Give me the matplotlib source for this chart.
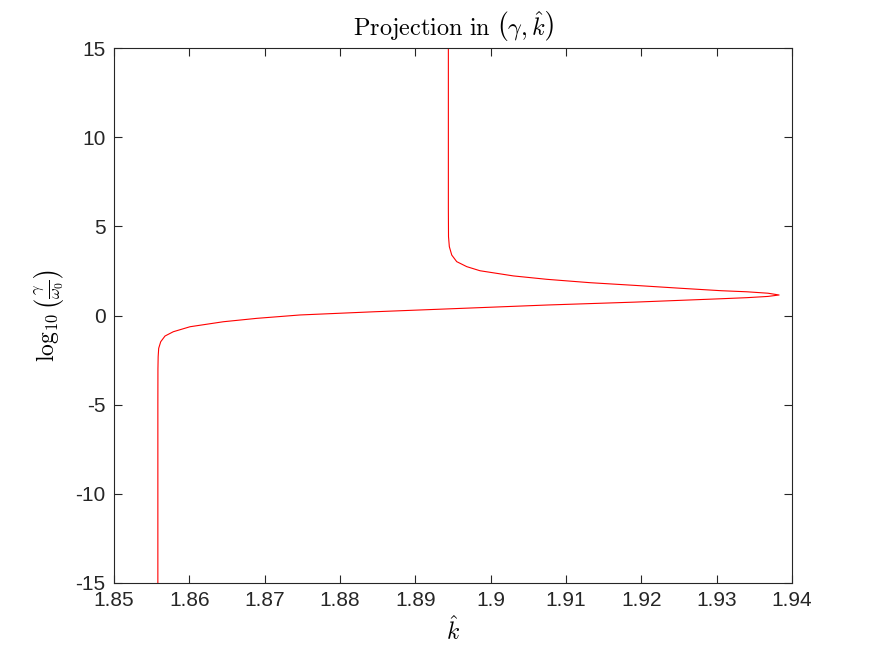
import matplotlib.pyplot as plt

plt.rcParams["mathtext.fontset"] = "cm"
plt.rcParams["font.family"] = ["Liberation Sans", "DejaVu Sans"]
plt.rcParams["axes.unicode_minus"] = False

# curve: k_hat vs log10(gamma/omega0)
k_hat = [1.85582, 1.85582, 1.85583, 1.85586, 1.85593, 1.85620, 1.85677,
         1.85787, 1.86009, 1.86451, 1.86894, 1.87469, 1.88455, 1.8961,
         1.9076, 1.9191, 1.9306, 1.9340, 1.9368, 1.93828,
         1.9368, 1.9340, 1.9306, 1.9251, 1.9191, 1.91319, 1.90744,
         1.90301, 1.89858, 1.89682, 1.89549, 1.89483, 1.89451, 1.89440,
         1.89438, 1.89438]
log_gamma = [-15.0, -5.0, -3.0, -2.31, -1.84, -1.47, -1.15,
             -0.91, -0.63, -0.35, -0.16, 0.03, 0.21, 0.40,
             0.59, 0.75, 0.94, 1.00, 1.07, 1.15,
             1.25, 1.33, 1.39, 1.53, 1.69, 1.84, 2.03,
             2.22, 2.51, 2.74, 3.02, 3.39, 3.86, 4.42,
             6.0, 15.0]

x_ticks = [1.85, 1.86, 1.87, 1.88, 1.89, 1.9, 1.91, 1.92, 1.93, 1.94]
x_tick_labels = ["1.85", "1.86", "1.87", "1.88", "1.89", "1.9", "1.91", "1.92", "1.93", "1.94"]
y_ticks = [-15, -10, -5, 0, 5, 10, 15]

fig = plt.figure(figsize=(8.75, 6.56), dpi=100)
ax = fig.add_axes([0.1303, 0.1113, 0.7749, 0.8155])

ax.plot(k_hat, log_gamma, color="red", linewidth=0.8)

ax.set_xlim(1.85, 1.94)
ax.set_ylim(-15, 15)
ax.set_xticks(x_ticks)
ax.set_xticklabels(x_tick_labels)
ax.set_yticks(y_ticks)

ax.tick_params(direction="in", length=6, width=0.8, colors="#262626",
               labelsize=15, top=True, right=True, pad=6)
for s in ax.spines.values():
    s.set_color("#262626")
    s.set_linewidth(0.8)

ax.set_title(r"$\mathrm{Projection\ in}\ \left(\gamma,\hat{k}\right)$", fontsize=17.5, pad=9)
ax.set_xlabel(r"$\hat{k}$", fontsize=17, labelpad=4)
ax.set_ylabel(r"$\log_{10}\left(\frac{\gamma}{\omega_0}\right)$", fontsize=17, labelpad=6)

fig.savefig("out.png", dpi=100)
